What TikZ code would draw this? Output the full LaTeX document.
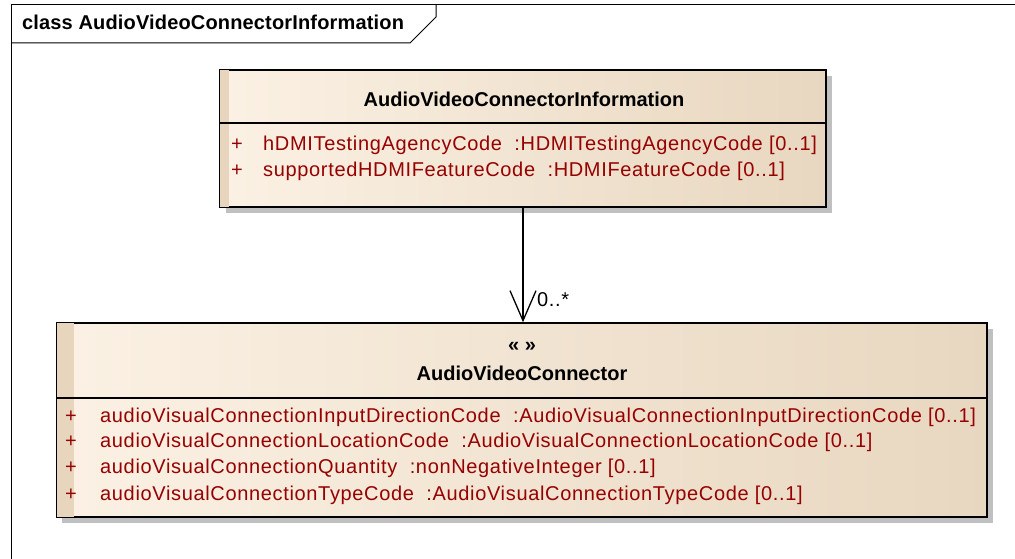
\documentclass[tikz,border=0pt]{standalone}
\usepackage{fontspec}
\setmainfont{Liberation Sans}
\newfontfamily\attrfont[LetterSpace=3.3]{Liberation Sans}
\newfontfamily\ttlfont[LetterSpace=0.8]{Liberation Sans}
\usetikzlibrary{arrows.meta}
\definecolor{attr}{RGB}{150,0,0}
\definecolor{creamL}{RGB}{251,241,228}
\definecolor{creamR}{RGB}{232,215,192}
\definecolor{stripc}{RGB}{231,213,189}
\definecolor{shadowc}{RGB}{192,192,192}
\tikzset{
  classbox/.style={rectangle, left color=creamL, right color=creamR, draw=black, line width=1.4pt, inner sep=0pt},
  shadowbox/.style={fill=shadowc, draw=none},
  txt/.style={inner sep=0pt, anchor=base west, font=\attrfont\fontsize{20}{24}\selectfont},
  boldtxt/.style={inner sep=0pt, anchor=base, font=\fontsize{20}{24}\selectfont\bfseries},
  attrtxt/.style={txt, text=attr},
  framel/.style={draw=black, line width=1pt}
}
\begin{document}
\begin{tikzpicture}[x=1pt,y=-1pt]
\useasboundingbox (0,0) rectangle (1015,559);
\fill[white] (0,0) rectangle (1015,559);
% frame
\begin{scope}
\clip (0,0) rectangle (1015,559);
\draw[framel] (11,570) -- (11,5) -- (1030,5);
\draw[framel] (11,43) -- (410,43) -- (436,17) -- (436,5);
\end{scope}
\node[inner sep=0pt, anchor=base west, font=\ttlfont\fontsize{20}{24}\selectfont\bfseries] (ttl) at (22,30) {class AudioVideoConnectorInformation};

% top class
\fill[shadowbox] (226,76) rectangle (832,213);
\node[classbox, minimum width=606pt, minimum height=137pt] (info) at (523,138.5) {};
\fill[stripc] ([shift={(0.7pt,-0.7pt)}]info.north west) rectangle ([xshift=10pt, yshift=0.7pt]info.south west);
\draw[line width=1.4pt] (info.north west) rectangle (info.south east);
\coordinate (infosepL) at (220,123);
\coordinate (infosepR) at (826,123);
\draw[line width=1.2pt] (infosepL) -- (infosepR);
\node[boldtxt] (infoname) at (524,107) {AudioVideoConnectorInformation};
\node[attrtxt] (ip1) at (231,150) {+};
\node[attrtxt] (ia1) at (263,150) {hDMITestingAgencyCode\ \ :HDMITestingAgencyCode [0..1]};
\node[attrtxt] (ip2) at (231,176) {+};
\node[attrtxt] (ia2) at (263,176) {supportedHDMIFeatureCode\ \ :HDMIFeatureCode [0..1]};

% bottom class
\fill[shadowbox] (62,329) rectangle (993,523);
\node[classbox, minimum width=930pt, minimum height=194pt] (avc) at (522,420) {};
\fill[stripc] ([shift={(0.7pt,-0.7pt)}]avc.north west) rectangle ([xshift=18pt, yshift=0.7pt]avc.south west);
\draw[line width=1.4pt] (avc.north west) rectangle (avc.south east);
\coordinate (avcsepL) at (57,398);
\coordinate (avcsepR) at (987,398);
\draw[line width=1.2pt] (avcsepL) -- (avcsepR);
\node[boldtxt] (stereo) at (522,351) {« »};
\node[boldtxt] (avcname) at (522,380) {AudioVideoConnector};
\node[attrtxt] (bp1) at (65,422) {+};
\node[attrtxt] (ba1) at (100,422) {audioVisualConnectionInputDirectionCode\ \ :AudioVisualConnectionInputDirectionCode [0..1]};
\node[attrtxt] (bp2) at (65,447) {+};
\node[attrtxt] (ba2) at (100,447) {audioVisualConnectionLocationCode\ \ :AudioVisualConnectionLocationCode [0..1]};
\node[attrtxt] (bp3) at (65,473) {+};
\node[attrtxt] (ba3) at (100,473) {audioVisualConnectionQuantity\ \ :nonNegativeInteger [0..1]};
\node[attrtxt] (bp4) at (65,500) {+};
\node[attrtxt] (ba4) at (100,500) {audioVisualConnectionTypeCode\ \ :AudioVisualConnectionTypeCode [0..1]};

% association
\draw[line width=1.3pt, -{Straight Barb[length=30pt, width=26pt, line width=1.3pt]}] (info.south) -- (info.south |- avc.north);
\node[txt] (mult) at (537,306) {0..*};
\end{tikzpicture}
\end{document}
